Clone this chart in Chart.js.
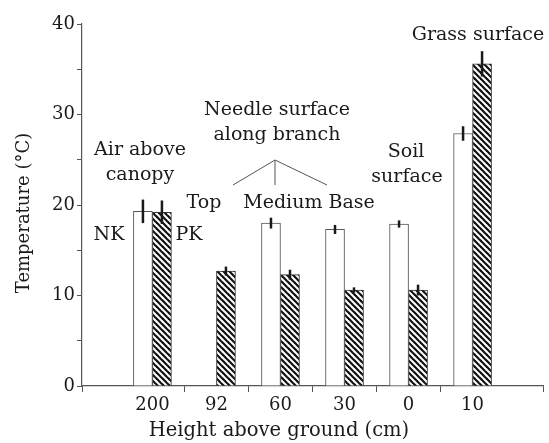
<!DOCTYPE html>
<html>
<head>
<meta charset="utf-8">
<script src="https://cdn.jsdelivr.net/npm/chart.js@4"></script>
<style>
  html, body { margin: 0; padding: 0; background: #fff; }
  #wrap { width: 549px; height: 443px; }
</style>
</head>
<body>
<div id="wrap"><canvas id="chart"></canvas></div>
<script>
// heights above ground (cm), one group each
const heights = ['200', '92', '60', '30', '0', '10'];
// NK = open bars, PK = hatched bars (temperature, deg C)
const nkValues = [19.3, null, 18.0, 17.3, 17.9, 27.9];
const nkErrors = [1.3, null, 0.6, 0.5, 0.4, 0.8];
const pkValues = [19.2, 12.7, 12.3, 10.6, 10.6, 35.6];
const pkErrors = [1.3, 0.5, 0.55, 0.3, 0.6, 1.4];
const yTicks = [0, 10, 20, 30, 40];

const FONT = "'DejaVu Serif', serif";
const INK = '#1a1a1a';

function hatch() {
  const c = document.createElement('canvas');
  c.width = 6; c.height = 6;
  const g = c.getContext('2d');
  g.fillStyle = '#fff';
  g.fillRect(0, 0, 6, 6);
  g.strokeStyle = '#111';
  g.lineWidth = 2.2;
  [-6, 0, 6].forEach(k => {
    g.beginPath();
    g.moveTo(k - 1, -1);
    g.lineTo(k + 7, 7);
    g.stroke();
  });
  return document.getElementById('chart').getContext('2d').createPattern(c, 'repeat');
}

function points(vals) {
  const out = [];
  vals.forEach((v, i) => { if (v !== null) out.push({ x: i, y: v, idx: i }); });
  return out;
}

const errorBars = {
  id: 'errorBars',
  afterDatasetsDraw(chart) {
    const ctx = chart.ctx;
    const y = chart.scales.y;
    const errs = [nkErrors, pkErrors];
    ctx.save();
    ctx.strokeStyle = INK;
    ctx.lineWidth = 2.5;
    chart.data.datasets.forEach((ds, d) => {
      const meta = chart.getDatasetMeta(d);
      meta.data.forEach((bar, j) => {
        const p = ds.data[j];
        const e = errs[d][p.idx];
        if (e == null) return;
        ctx.beginPath();
        ctx.moveTo(bar.x, y.getPixelForValue(p.y + e));
        ctx.lineTo(bar.x, y.getPixelForValue(p.y - e));
        ctx.stroke();
      });
    });
    ctx.restore();
  }
};

const notes = {
  id: 'notes',
  afterDraw(chart) {
    const ctx = chart.ctx;
    ctx.save();
    ctx.fillStyle = INK;
    ctx.font = '19px ' + FONT;
    ctx.textAlign = 'center';
    ctx.textBaseline = 'alphabetic';
    const t = (s, x, yy) => ctx.fillText(s, x, yy);
    t('Grass surface', 478, 40);
    t('Needle surface', 277, 115);
    t('along branch', 277, 140);
    t('Air above', 140, 155);
    t('canopy', 140, 180);
    t('Soil', 406, 157);
    t('surface', 407, 182);
    t('Top', 204, 208);
    t('Medium Base', 309, 208);
    t('NK', 109, 240);
    t('PK', 189, 240);

    // axis titles (placed as in the original, slightly off-centre)
    ctx.font = '19.5px ' + FONT;
    t('Height above ground (cm)', 279, 436);
    ctx.font = '18px ' + FONT;
    ctx.save();
    ctx.translate(29, 213);
    ctx.rotate(-Math.PI / 2);
    t('Temperature (°C)', 0, 0);
    ctx.restore();

    // bracket pointing from the needle label to the three positions
    ctx.strokeStyle = '#555';
    ctx.lineWidth = 1;
    ctx.beginPath();
    ctx.moveTo(233, 185); ctx.lineTo(275, 160); ctx.lineTo(327, 185);
    ctx.moveTo(275, 160); ctx.lineTo(275, 185);
    ctx.stroke();
    ctx.restore();
  }
};

Chart.defaults.font.family = FONT;
Chart.defaults.color = INK;

new Chart(document.getElementById('chart'), {
  type: 'bar',
  data: {
    datasets: [
      {
        label: 'NK',
        data: points(nkValues),
        backgroundColor: '#fff',
        borderColor: '#555',
        borderWidth: 1,
        barThickness: 19
      },
      {
        label: 'PK',
        data: points(pkValues),
        backgroundColor: hatch(),
        borderColor: '#333',
        borderWidth: 1,
        barThickness: 19
      }
    ]
  },
  options: {
    responsive: true,
    maintainAspectRatio: false,
    animation: false,
    layout: { padding: { top: 24, right: 6, left: 0, bottom: 0 } },
    plugins: { legend: { display: false }, tooltip: { enabled: false } },
    scales: {
      x: {
        type: 'linear',
        min: -1.1,
        max: 6.1,
        offset: false,
        afterBuildTicks: axis => {
          const ticks = [-1.1];
          heights.forEach((h, i) => {
            ticks.push(i);
            if (i < heights.length - 1) ticks.push(i + 0.5);
          });
          ticks.push(6.1);
          axis.ticks = ticks.map(v => ({ value: v }));
        },
        afterFit: axis => { axis.height = 57; },
        ticks: {
          autoSkip: false,
          maxRotation: 0,
          padding: 3,
          font: { size: 18 },
          callback: v => Number.isInteger(v) ? heights[v] : ''
        },
        grid: {
          drawOnChartArea: false,
          offset: false,
          tickLength: 6,
          tickColor: c => (c.tick && Number.isInteger(c.tick.value)) ? 'rgba(0,0,0,0)' : '#555'
        },
        border: { color: '#555', width: 1.2 },
        title: { display: false }
      },
      y: {
        min: 0,
        max: 40,
        afterBuildTicks: axis => {
          const ticks = [];
          yTicks.forEach((v, i) => {
            ticks.push(v);
            if (i < yTicks.length - 1) ticks.push(v + 5);
          });
          axis.ticks = ticks.map(v => ({ value: v }));
        },
        afterFit: axis => { axis.width = 82; },
        ticks: {
          padding: 2,
          font: { size: 18 },
          callback: v => yTicks.includes(v) ? v : ''
        },
        grid: { drawOnChartArea: false, tickLength: 5, tickColor: '#555' },
        border: { color: '#555', width: 1.2 },
        title: { display: false }
      }
    }
  },
  plugins: [errorBars, notes]
});
</script>
</body>
</html>
